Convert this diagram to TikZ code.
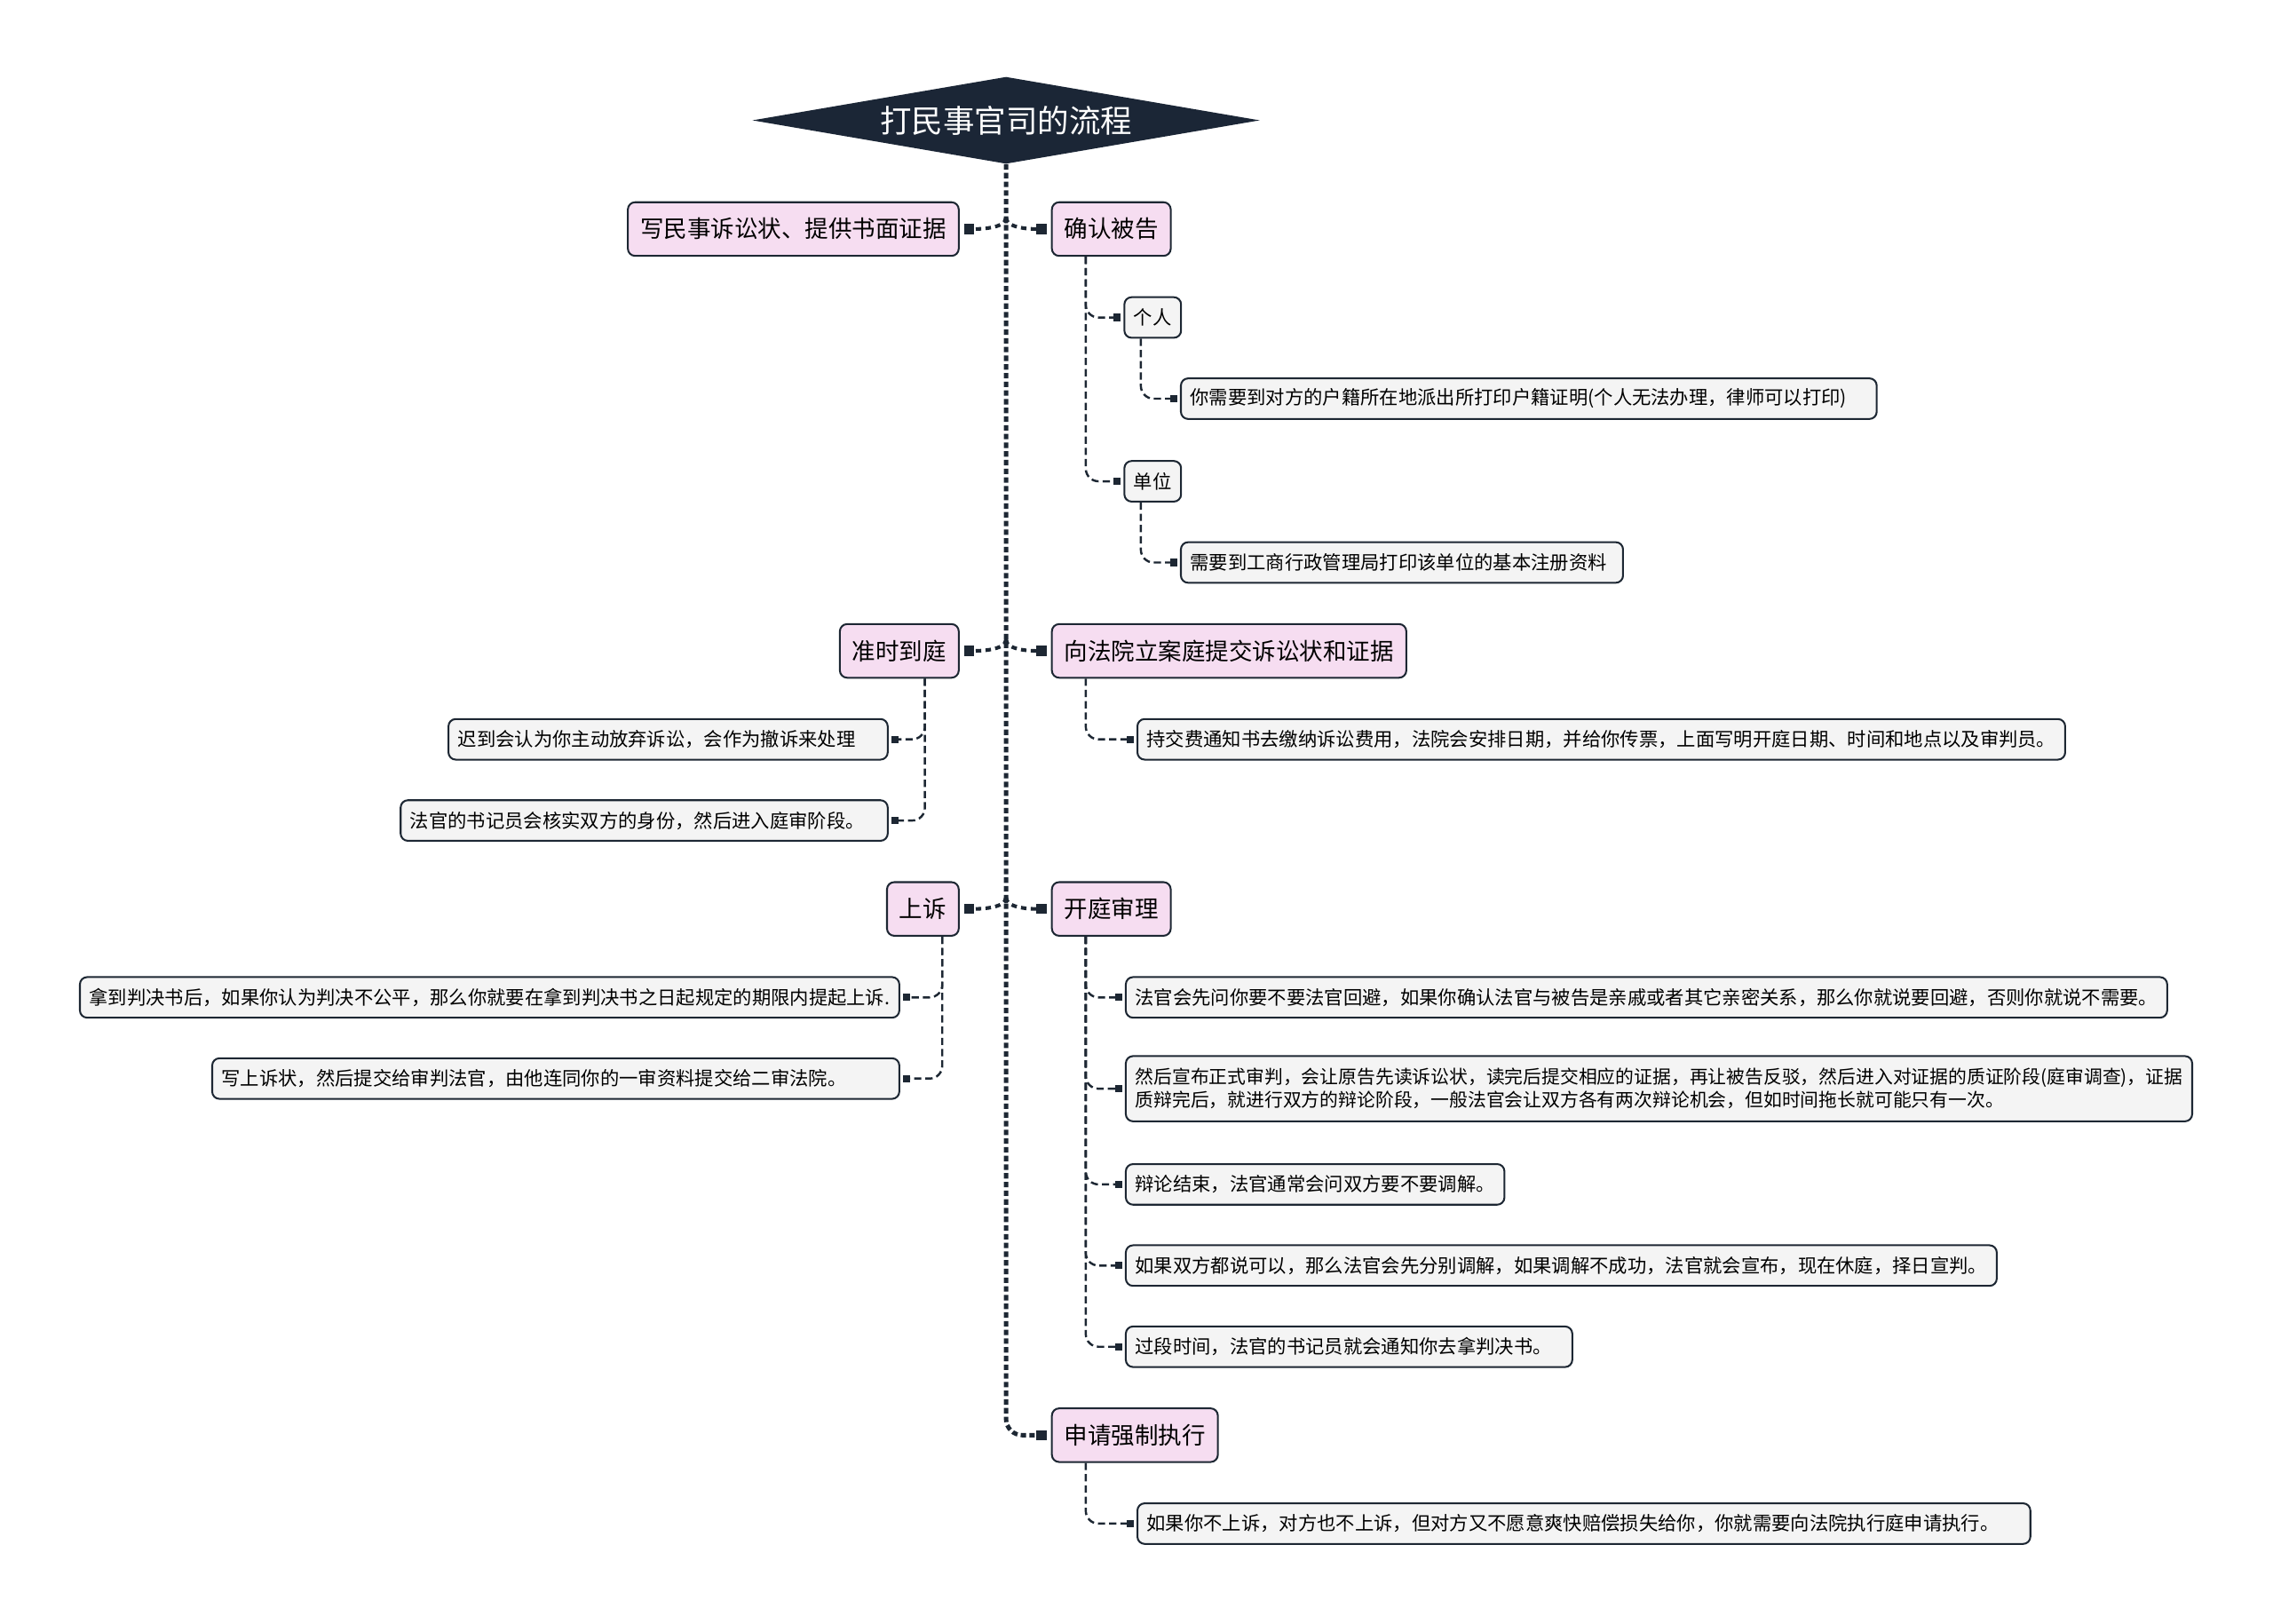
\documentclass[tikz,border=0pt]{standalone}
\usepackage{fontspec}
\setmainfont{Noto Sans CJK SC}
\usetikzlibrary{arrows.meta, positioning, shapes.geometric}
\definecolor{cTitle}{HTML}{1B2636}
\definecolor{cLine}{HTML}{1D2733}
\definecolor{cMain}{HTML}{F6DDF1}
\definecolor{cLeaf}{HTML}{F4F4F4}

\begin{document}
\begin{tikzpicture}[
  x=0.8pt, y=-0.8pt,
  titlenode/.style={diamond, aspect=5.83, fill=cTitle, text=white, inner sep=0pt,
              minimum width=280pt, minimum height=48pt, font=\fontsize{17.4}{20}\selectfont},
  boxnode/.style={rectangle, rounded corners=4pt, draw=cLine, line width=1pt,
              fill=#1, inner ysep=0pt},
  mainnode/.style={boxnode=cMain, minimum height=29.6pt, inner xsep=6.8pt,
              font=\fontsize{13}{15}\selectfont},
  leafnode/.style={boxnode=cLeaf, minimum height=22.4pt, inner xsep=5.2pt,
              font=\fontsize{10.45}{12.8}\selectfont},
  wide/.style={text width=#1, align=left},
  trunkline/.style={draw=cLine, line width=2.4pt, dash pattern=on 3pt off 1.8pt,
              rounded corners=9pt, -{Square[length=5.6pt, width=5.6pt]}, shorten >=2.4pt},
  branchline/.style={draw=cLine, line width=2pt, dash pattern=on 3pt off 2.4pt,
              -{Square[length=5.6pt, width=5.6pt]}, shorten >=2.4pt},
  twigline/.style={draw=cLine, line width=1.2pt, dash pattern=on 4pt off 2.2pt,
              rounded corners=7pt, -{Square[length=4pt, width=4pt]}, shorten >=1.6pt},
]
\useasboundingbox (0,0) rectangle (1568,1120);

% =========================== root ===========================
\node[titlenode] (title) at (694,83) {打民事官司的流程};

% =========================== main steps ===========================
\node[mainnode, anchor=east] (k_write)   at (662,158) {写民事诉讼状、提供书面证据};
\node[mainnode, anchor=west] (k_confirm) at (725,158) {确认被告};
\node[mainnode, anchor=east] (k_ontime)  at (662,449) {准时到庭};
\node[mainnode, anchor=west] (k_submit)  at (725,449) {向法院立案庭提交诉讼状和证据};
\node[mainnode, anchor=east] (k_appeal)  at (662,627) {上诉};
\node[mainnode, anchor=west] (k_trial)   at (725,627) {开庭审理};
\node[mainnode, anchor=west] (k_exec)    at (725,990) {申请强制执行};

% =========================== details ===========================
\node[leafnode, anchor=west] (d_person)  at (775,219) {个人};
\node[leafnode, anchor=west, wide=373.6pt] (d_personx) at (814,275) {你需要到对方的户籍所在地派出所打印户籍证明(个人无法办理，律师可以打印)};
\node[leafnode, anchor=west] (d_unit)    at (775,332) {单位};
\node[leafnode, anchor=west, wide=233.6pt] (d_unitx) at (814,388) {需要到工商行政管理局打印该单位的基本注册资料};
\node[leafnode, anchor=west] (d_fee)     at (784,510) {持交费通知书去缴纳诉讼费用，法院会安排日期，并给你传票，上面写明开庭日期、时间和地点以及审判员。};
\node[leafnode, anchor=east, wide=232pt]   (d_late)  at (613,510) {迟到会认为你主动放弃诉讼，会作为撤诉来处理};
\node[leafnode, anchor=east, wide=258.4pt] (d_clerk) at (613,566) {法官的书记员会核实双方的身份，然后进入庭审阶段。};
\node[leafnode, anchor=east] (d_judg)    at (621,688) {拿到判决书后，如果你认为判决不公平，那么你就要在拿到判决书之日起规定的期限内提起上诉.};
\node[leafnode, anchor=east, wide=368.8pt] (d_appeal) at (621,744) {写上诉状，然后提交给审判法官，由他连同你的一审资料提交给二审法院。};
\node[leafnode, anchor=west] (t1) at (776,688) {法官会先问你要不要法官回避，如果你确认法官与被告是亲戚或者其它亲密关系，那么你就说要回避，否则你就说不需要。};
\node[leafnode, anchor=west, align=left, minimum height=36pt, font=\fontsize{10.2}{12.8}\selectfont] (t2) at (776,751)
  {然后宣布正式审判，会让原告先读诉讼状，读完后提交相应的证据，再让被告反驳，然后进入对证据的质证阶段(庭审调查)，证据\\质辩完后，就进行双方的辩论阶段，一般法官会让双方各有两次辩论机会，但如时间拖长就可能只有一次。};
\node[leafnode, anchor=west] (t3) at (776,817) {辩论结束，法官通常会问双方要不要调解。};
\node[leafnode, anchor=west] (t4) at (776,873) {如果双方都说可以，那么法官会先分别调解，如果调解不成功，法官就会宣布，现在休庭，择日宣判。};
\node[leafnode, anchor=west, wide=236pt] (t5) at (776,929) {过段时间，法官的书记员就会通知你去拿判决书。};
\node[leafnode, anchor=west, wide=482.4pt] (d_exec) at (784,1051) {如果你不上诉，对方也不上诉，但对方又不愿意爽快赔偿损失给你，你就需要向法院执行庭申请执行。};

% =========================== connectors ===========================
\draw[trunkline] (title.south) |- (k_exec.west);

\coordinate (j1) at ([yshift=6.4pt]title.south |- k_confirm.west);
\coordinate (j2) at ([yshift=6.4pt]title.south |- k_submit.west);
\coordinate (j3) at ([yshift=6.4pt]title.south |- k_trial.west);

\foreach \j/\l/\r in {j1/k_write/k_confirm, j2/k_ontime/k_submit, j3/k_appeal/k_trial} {
  \draw[branchline] (\j) .. controls +(0,8) and +(12,0) .. (\l.east);
  \draw[branchline] (\j) .. controls +(0,8) and +(-12,0) .. (\r.west);
}

\foreach \p/\s/\c in {k_confirm/19.2pt/d_person, k_confirm/19.2pt/d_unit,
                      d_person/9.6pt/d_personx, d_unit/9.6pt/d_unitx,
                      k_submit/19.2pt/d_fee,
                      k_trial/19.2pt/t1, k_trial/19.2pt/t2, k_trial/19.2pt/t3,
                      k_trial/19.2pt/t4, k_trial/19.2pt/t5,
                      k_exec/19.2pt/d_exec}
  \draw[twigline] ([xshift=\s]\p.south west) |- (\c.west);

\foreach \p/\s/\c in {k_ontime/19.2pt/d_late, k_ontime/19.2pt/d_clerk,
                      k_appeal/9.6pt/d_judg, k_appeal/9.6pt/d_appeal}
  \draw[twigline] ([xshift=-\s]\p.south east) |- (\c.east);

\end{tikzpicture}
\end{document}
